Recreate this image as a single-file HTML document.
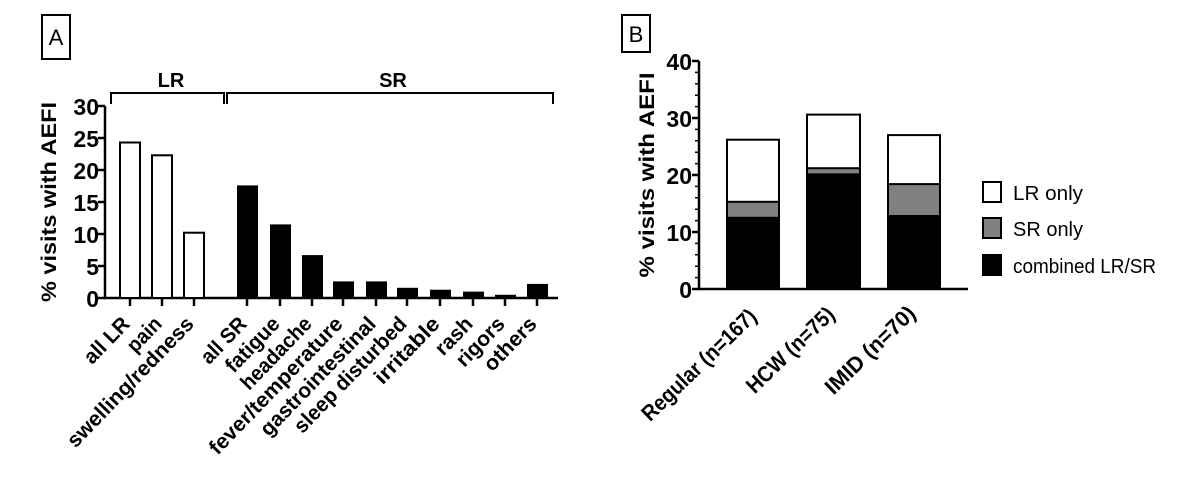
<!DOCTYPE html>
<html><head><style>body{margin:0;background:#fff}svg{display:block}text{font-family:"Liberation Sans",sans-serif}</style></head>
<body>
<svg width="1200" height="496" viewBox="0 0 1200 496" xmlns="http://www.w3.org/2000/svg">
<rect width="1200" height="496" fill="#fff"/>
<rect x="42" y="15" width="28" height="44" fill="none" stroke="#000" stroke-width="2"/>
<text x="56" y="45" font-size="22" text-anchor="middle">A</text>
<g fill="none" stroke="#000" stroke-width="2">
<path d="M111 104V93H224V104"/><path d="M227 104V93H553V104"/>
</g>
<g font-weight="bold" font-size="20" text-anchor="middle"><text x="171" y="87">LR</text><text x="393" y="87">SR</text></g>
<g stroke="#000" stroke-width="2.5" fill="none">
<path d="M105 106V298H558"/>
<path d="M98 106H105M98 138H105M98 170H105M98 202H105M98 234H105M98 266H105M98 298H105"/>
<path d="M130 298v8M162 298v8M194 298v8M247 298v8M280 298v8M312 298v8M343 298v8M376 298v8M407 298v8M440 298v8M473 298v8M505 298v8M537 298v8"/>
</g>
<g font-weight="bold" font-size="23" text-anchor="end">
<text x="99" y="115">30</text><text x="99" y="147">25</text><text x="99" y="179">20</text><text x="99" y="211">15</text><text x="99" y="243">10</text><text x="99" y="275">5</text><text x="99" y="307">0</text>
</g>
<text transform="translate(56 202) rotate(-90)" font-weight="bold" font-size="21" text-anchor="middle" textLength="200" lengthAdjust="spacingAndGlyphs">% visits with AEFI</text>
<g stroke="#000" stroke-width="2">
<rect x="120" y="142.5" width="20" height="155.5" fill="#fff"/>
<rect x="152" y="155.3" width="20" height="142.7" fill="#fff"/>
<rect x="184" y="232.7" width="20" height="65.3" fill="#fff"/>
</g>
<g fill="#000">
<rect x="237" y="185.4" width="21" height="112.6"/>
<rect x="270" y="224.4" width="21" height="73.6"/>
<rect x="302" y="255.1" width="21" height="42.9"/>
<rect x="333" y="281.4" width="21" height="16.6"/>
<rect x="366" y="281.4" width="21" height="16.6"/>
<rect x="397" y="287.8" width="21" height="10.2"/>
<rect x="430" y="289.7" width="21" height="8.3"/>
<rect x="463" y="291.6" width="21" height="6.4"/>
<rect x="495" y="294.8" width="21" height="3.2"/>
<rect x="527" y="283.9" width="21" height="14.1"/>
</g>
<g font-weight="bold" font-size="21" text-anchor="end">
<text transform="translate(131 325) rotate(-46)" textLength="56" lengthAdjust="spacingAndGlyphs">all LR</text>
<text transform="translate(163 325) rotate(-46)" textLength="40" lengthAdjust="spacingAndGlyphs">pain</text>
<text transform="translate(195 325) rotate(-46)" textLength="172" lengthAdjust="spacingAndGlyphs">swelling/redness</text>
<text transform="translate(248 325) rotate(-46)" textLength="56" lengthAdjust="spacingAndGlyphs">all SR</text>
<text transform="translate(281 325) rotate(-46)" textLength="68" lengthAdjust="spacingAndGlyphs">fatigue</text>
<text transform="translate(313 325) rotate(-46)" textLength="92" lengthAdjust="spacingAndGlyphs">headache</text>
<text transform="translate(344 325) rotate(-46)" textLength="182" lengthAdjust="spacingAndGlyphs">fever/temperature</text>
<text transform="translate(377 325) rotate(-46)" textLength="156" lengthAdjust="spacingAndGlyphs">gastrointestinal</text>
<text transform="translate(408 325) rotate(-46)" textLength="152" lengthAdjust="spacingAndGlyphs">sleep disturbed</text>
<text transform="translate(441 325) rotate(-46)" textLength="84" lengthAdjust="spacingAndGlyphs">irritable</text>
<text transform="translate(474 325) rotate(-46)" textLength="44" lengthAdjust="spacingAndGlyphs">rash</text>
<text transform="translate(506 325) rotate(-46)" textLength="60" lengthAdjust="spacingAndGlyphs">rigors</text>
<text transform="translate(538 325) rotate(-46)" textLength="66" lengthAdjust="spacingAndGlyphs">others</text>
</g>
<rect x="622" y="15" width="28" height="37" fill="none" stroke="#000" stroke-width="2"/>
<text x="636" y="42" font-size="22" text-anchor="middle">B</text>
<g stroke="#000" stroke-width="2.5" fill="none">
<path d="M699 61V289H968"/>
<path d="M692 61H699M692 118H699M692 175H699M692 232H699M692 289H699"/>
</g>
<g stroke="#000" stroke-width="1.5">
<path d="M695 72.4H699M695 83.8H699M695 95.2H699M695 106.6H699M695 129.4H699M695 140.8H699M695 152.2H699M695 163.6H699M695 186.4H699M695 197.8H699M695 209.2H699M695 220.6H699M695 243.4H699M695 254.8H699M695 266.2H699M695 277.6H699"/>
</g>
<g font-weight="bold" font-size="23" text-anchor="end">
<text x="692" y="70">40</text><text x="692" y="127">30</text><text x="692" y="184">20</text><text x="692" y="241">10</text><text x="692" y="298">0</text>
</g>
<text transform="translate(654 175) rotate(-90)" font-weight="bold" font-size="21" text-anchor="middle" textLength="205" lengthAdjust="spacingAndGlyphs">% visits with  AEFI</text>
<g stroke="#000" stroke-width="2">
<rect x="727" y="139.7" width="52" height="149.3" fill="#fff"/>
<rect x="727" y="201.8" width="52" height="87.2" fill="#808080"/>
<rect x="727" y="217.8" width="52" height="71.2" fill="#000"/>
<rect x="807" y="114.6" width="53" height="174.4" fill="#fff"/>
<rect x="807" y="168.2" width="53" height="120.8" fill="#808080"/>
<rect x="807" y="174.4" width="53" height="114.6" fill="#000"/>
<rect x="888" y="135.1" width="52" height="153.9" fill="#fff"/>
<rect x="888" y="184.1" width="52" height="104.9" fill="#808080"/>
<rect x="888" y="216.0" width="52" height="73.0" fill="#000"/>
</g>
<g font-weight="bold" font-size="22" text-anchor="end">
<text transform="translate(758 318) rotate(-44)" textLength="150" lengthAdjust="spacingAndGlyphs">Regular (n=167)</text>
<text transform="translate(836 316) rotate(-44)" textLength="113" lengthAdjust="spacingAndGlyphs">HCW (n=75)</text>
<text transform="translate(917 315) rotate(-44)" textLength="116" lengthAdjust="spacingAndGlyphs">IMID (n=70)</text>
</g>
<g stroke="#000" stroke-width="2">
<rect x="983" y="182" width="18" height="20" fill="#fff"/>
<rect x="983" y="218" width="18" height="20" fill="#808080"/>
<rect x="983" y="255" width="18" height="20" fill="#000"/>
</g>
<g font-size="20">
<text x="1013" y="200" textLength="70" lengthAdjust="spacingAndGlyphs">LR only</text>
<text x="1013" y="236" textLength="70" lengthAdjust="spacingAndGlyphs">SR only</text>
<text x="1013" y="273" textLength="143" lengthAdjust="spacingAndGlyphs">combined LR/SR</text>
</g>
</svg>
</body></html>
